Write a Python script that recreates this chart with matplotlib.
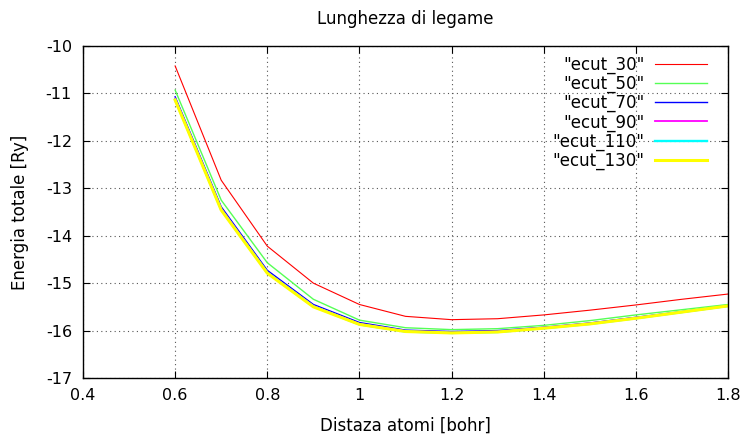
import numpy as np
import matplotlib.pyplot as plt

# Bond length scan: total energy vs interatomic distance for several cutoffs
distanza = [0.6, 0.7, 0.8, 0.9, 1.0, 1.1, 1.2, 1.3, 1.4, 1.5, 1.6, 1.7, 1.8]

ecut_30 = [-10.42, -12.83, -14.22, -15.00, -15.45, -15.70, -15.77, -15.75,
           -15.67, -15.57, -15.46, -15.34, -15.23]
ecut_50 = [-10.93, -13.25, -14.57, -15.34, -15.78, -15.94, -15.98, -15.96,
           -15.89, -15.79, -15.67, -15.56, -15.45]
ecut_70 = [-11.07, -13.39, -14.73, -15.45, -15.83, -15.99, -16.02, -16.00,
           -15.93, -15.84, -15.72, -15.60, -15.48]
ecut_90 = [-11.11, -13.43, -14.77, -15.48, -15.86, -16.01, -16.04, -16.02,
           -15.94, -15.85, -15.73, -15.61, -15.48]
ecut_110 = [-11.13, -13.45, -14.78, -15.49, -15.87, -16.02, -16.05, -16.03,
            -15.95, -15.86, -15.74, -15.61, -15.48]
ecut_130 = [-11.14, -13.46, -14.79, -15.50, -15.87, -16.02, -16.05, -16.03,
            -15.95, -15.86, -15.74, -15.61, -15.48]

series = [
    ('"ecut_30"', ecut_30, '#ff0000', 0.8),
    ('"ecut_50"', ecut_50, '#55ff55', 1.0),
    ('"ecut_70"', ecut_70, '#0000ff', 1.0),
    ('"ecut_90"', ecut_90, '#ff00ff', 1.3),
    ('"ecut_110"', ecut_110, '#00ffff', 1.7),
    ('"ecut_130"', ecut_130, '#ffff00', 2.2),
]

plt.rcParams['font.family'] = 'DejaVu Sans'
plt.rcParams['axes.unicode_minus'] = False

fig = plt.figure(figsize=(7.47, 4.42), dpi=100)
ax = fig.add_axes([83 / 747, 1 - 378 / 442, 645 / 747, 332 / 442])

for label, vals, color, lw in series:
    ax.plot(distanza, vals, color=color, lw=lw, label=label)

ax.set_xlim(0.4, 1.8)
ax.set_ylim(-17, -10)
ax.set_xticks(np.arange(0.4, 1.81, 0.2))
ax.set_xticklabels(['0.4', '0.6', '0.8', '1', '1.2', '1.4', '1.6', '1.8'])
ax.set_yticks(range(-17, -9))
ax.tick_params(direction='in', top=True, right=True, length=5, width=0.8,
               labelsize=11.5, colors='black')
ax.tick_params(axis='x', pad=7)
ax.tick_params(axis='y', pad=8)
ax.grid(True, color='#555555', linestyle=(0, (1, 3)), linewidth=0.8)
for sp in ax.spines.values():
    sp.set_linewidth(1.0)

ax.set_xlabel('Distaza atomi [bohr]', fontsize=12, labelpad=10)
ax.set_ylabel('Energia totale [Ry]', fontsize=12, labelpad=12)
ax.set_title('Lunghezza di legame', fontsize=12, pad=16)

# key in the top right corner, sample line after the text
leg = ax.legend(loc='upper right', bbox_to_anchor=(0.9674, 0.97),
                frameon=False, markerfirst=False,
                handlelength=3.1, handletextpad=0.65, labelspacing=0.05,
                fontsize=12, borderaxespad=0, borderpad=0)
for t in leg.get_texts():
    t.set_ha('right')
leg._legend_box.align = 'right'

fig.savefig('out.png', dpi=100, facecolor='white')
